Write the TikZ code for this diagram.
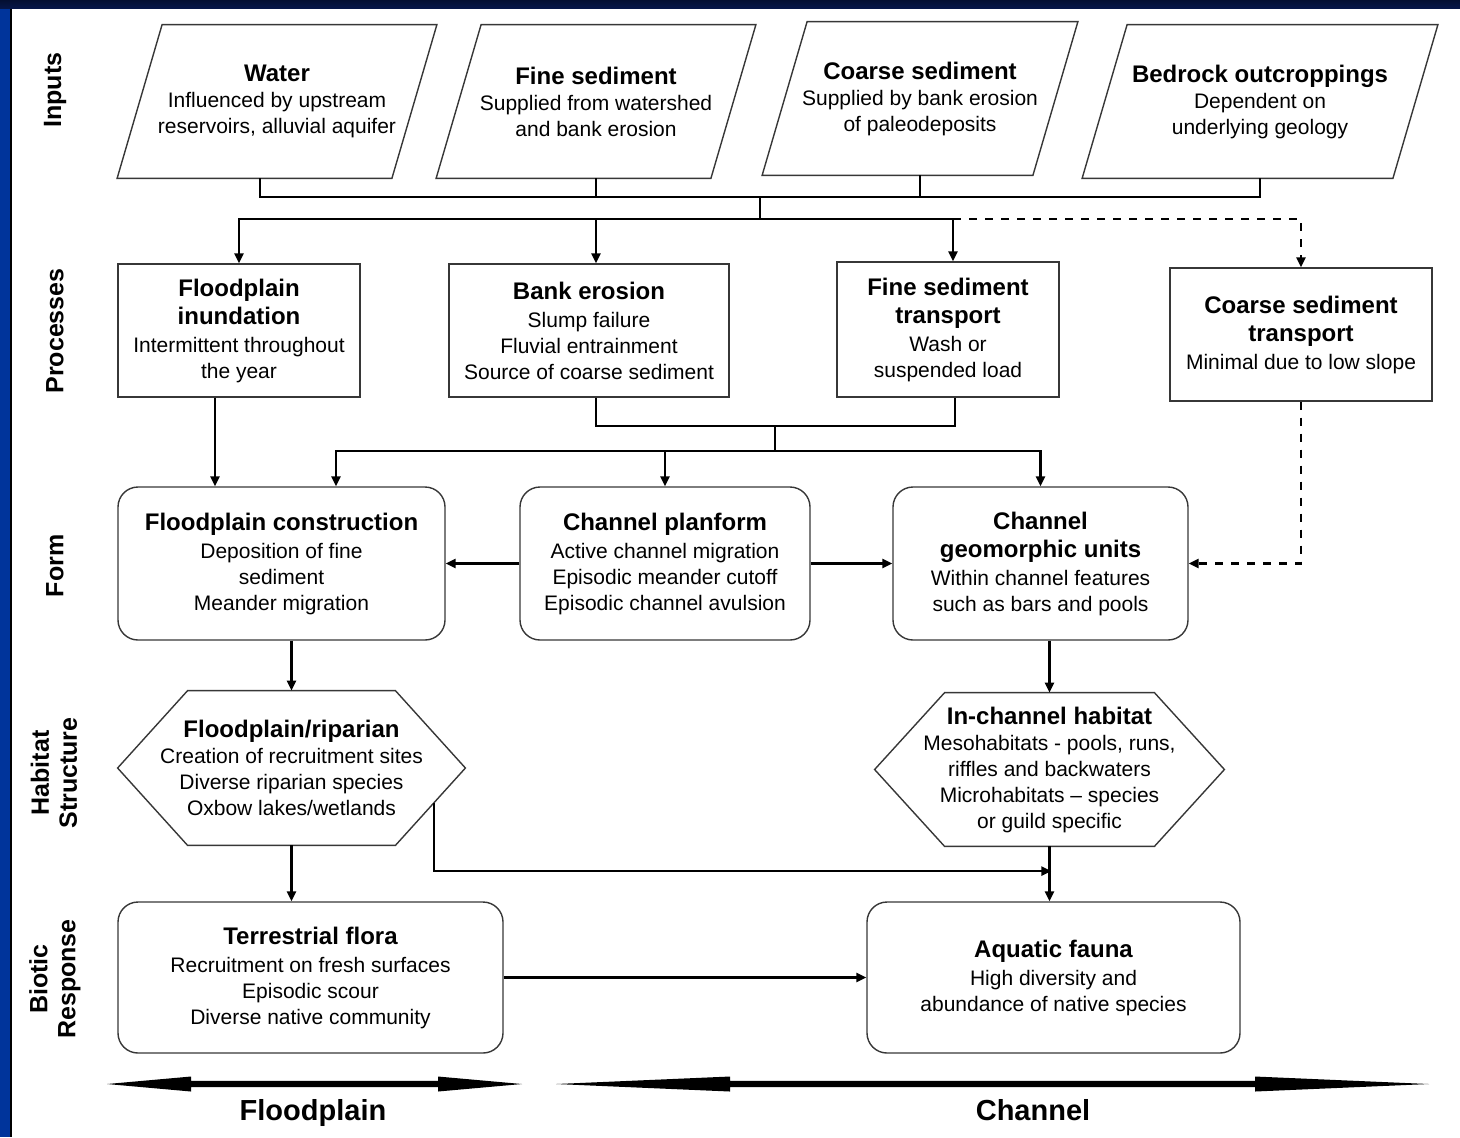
\documentclass[tikz,border=0pt]{standalone}
\usepackage{fontspec}
\setmainfont{Liberation Sans}
\usetikzlibrary{arrows.meta}
\usetikzlibrary{calc}
\usetikzlibrary{positioning}

\definecolor{framenavy}{RGB}{6,22,72}
\definecolor{frameblue}{RGB}{0,52,155}
\definecolor{boxline}{RGB}{55,55,55}

\newcommand{\hd}[1]{{\fontsize{12}{15}\selectfont\bfseries #1}}

\tikzset{
  lane/.style={font=\fontsize{12.5}{14}\selectfont\bfseries, rotate=90, align=center},
  inbox/.style={minimum width=137pt, minimum height=76.5pt, inner sep=0pt, align=center, font=\fontsize{10.5}{13}\selectfont},
  procbox/.style={draw=boxline, line width=0.7pt, minimum height=66.5pt, inner sep=2pt, align=center, font=\fontsize{10.5}{13}\selectfont},
  formbox/.style={procbox, rounded corners=10pt, minimum height=76.5pt},
  hexbox/.style={minimum height=77pt, inner sep=0pt, align=center, font=\fontsize{10.5}{13}\selectfont},
  outline/.style={draw=boxline, line width=0.7pt},
  link/.style={line width=1.2pt},
  arr/.style={link, -{Triangle[length=5pt,width=4.5pt]}},
  dashlink/.style={arr, dash pattern=on 4pt off 4pt},
  footlab/.style={font=\fontsize{14.5}{16}\selectfont\bfseries, anchor=base}
}

\begin{document}
\begin{tikzpicture}[x=0.5pt,y=-0.5pt]
  \useasboundingbox (0,0) rectangle (1460,1137);
  % frame
  \fill[frameblue] (0,0) rectangle (10,1137);
  \fill[black] (10,8) rectangle (12,1137);
  \shade[top color=framenavy!70!black, bottom color=framenavy] (0,0) rectangle (1460,8);

  % row labels
  \node[lane] (lin) at (55,90) {Inputs};
  \node[lane] (lpr) at (55,331) {Processes};
  \node[lane] (lfo) at (55,566) {Form};
  \node[lane] (lha) at (54,773) {Habitat\\Structure};
  \node[lane] (lbi) at (55,979) {Biotic\\Response};

  % inputs
  \node[inbox] (water) at (277,101.5) {\hd{Water}\\Influenced by upstream\\reservoirs, alluvial aquifer};
  \node[inbox] (fsed) at (596,101.5) {\hd{Fine sediment}\\Supplied from watershed\\and bank erosion};
  \node[inbox, minimum width=135pt] (csed) at (920,98.5) {\hd{Coarse sediment}\\Supplied by bank erosion\\of paleodeposits};
  \node[inbox, minimum width=155pt] (bedrock) at (1260,101.5) {\hd{Bedrock outcroppings}\\Dependent on\\underlying geology};
  \foreach \n in {water,fsed,csed,bedrock}
    \draw[outline] ([xshift=11.25pt]\n.north west) -- ([xshift=11.25pt]\n.north east)
      -- ([xshift=-11.25pt]\n.south east) -- ([xshift=-11.25pt]\n.south west) -- cycle;

  % processes
  \node[procbox, minimum width=121pt] (inund) at (239,330.5) {\hd{Floodplain}\\[1pt]\hd{inundation}\\[1pt]Intermittent throughout\\the year};
  \node[procbox, minimum width=140pt] (bank) at (589,330.5) {\hd{Bank erosion}\\[1pt]Slump failure\\Fluvial entrainment\\Source of coarse sediment};
  \node[procbox, minimum width=111pt, minimum height=67.5pt] (ftrans) at (948,329.5) {\hd{Fine sediment}\\[1pt]\hd{transport}\\[1pt]Wash or\\suspended load};
  \node[procbox, minimum width=131pt] (ctrans) at (1301,334.5) {\hd{Coarse sediment}\\[1pt]\hd{transport}\\[1pt]Minimal due to low slope};

  % form
  \node[formbox, minimum width=163.5pt] (fpcon) at (281.5,563.5) {\hd{Floodplain construction}\\[1pt]Deposition of fine\\sediment\\Meander migration};
  \node[formbox, minimum width=145pt] (planform) at (665,563.5) {\hd{Channel planform}\\[1pt]Active channel migration\\Episodic meander cutoff\\Episodic channel avulsion};
  \node[formbox, minimum width=147.5pt] (geounits) at (1040.5,563.5) {\hd{Channel}\\[1pt]\hd{geomorphic units}\\[1pt]Within channel features\\such as bars and pools};

  % habitat structure
  \node[hexbox, minimum width=173.5pt] (riparian) at (291.5,768) {\hd{Floodplain/riparian}\\Creation of recruitment sites\\Diverse riparian species\\Oxbow lakes/wetlands};
  \node[hexbox, minimum width=174.5pt, minimum height=76.5pt] (inchan) at (1049.5,769.5) {\hd{In-channel habitat}\\Mesohabitats - pools, runs,\\riffles and backwaters\\Microhabitats -- species\\or guild specific};
  \foreach \n in {riparian,inchan}
    \draw[outline] ([xshift=35pt]\n.north west) -- ([xshift=-35pt]\n.north east) -- (\n.east)
      -- ([xshift=-35pt]\n.south east) -- ([xshift=35pt]\n.south west) -- (\n.west) -- cycle;
  \coordinate (ripcut) at ($(riparian.east)!0.45!([xshift=-35pt]riparian.south east)$);

  % biotic response
  \node[formbox, minimum width=192.5pt, minimum height=75.5pt] (flora) at (310.5,977.5) {\hd{Terrestrial flora}\\[1pt]Recruitment on fresh surfaces\\Episodic scour\\Diverse native community};
  \node[formbox, minimum width=186.5pt, minimum height=75.5pt] (fauna) at (1053.5,977.5) {\hd{Aquatic fauna}\\[1pt]High diversity and\\abundance of native species};

  % inputs to processes
  \coordinate (inbus) at (760,197);
  \coordinate (prbus) at (760,219);
  \draw[link] ([xshift=-8.5pt]water.south) |- (inbus) -| (bedrock.south);
  \draw[link] (fsed.south) -- (fsed.south |- inbus);
  \draw[link] (csed.south) -- (csed.south |- inbus);
  \draw[link] (inbus) -- (prbus);
  \draw[arr] (prbus) -| (inund.north);
  \draw[arr] (prbus) -| ([xshift=2.5pt]ftrans.north);
  \draw[arr] (prbus -| fsed.south) -- (fsed.south |- bank.north);
  \draw[dashlink] ([xshift=2.5pt]prbus -| ftrans.north) -| (ctrans.north);

  % processes to form
  \coordinate (pjoin) at (775,426);
  \coordinate (fobus) at (775,451);
  \draw[link] ([xshift=3.5pt]bank.south) |- (pjoin) -| ([xshift=3.5pt]ftrans.south);
  \draw[link] (pjoin) -- (fobus);
  \draw[arr] (fobus) -| ([xshift=27.25pt]fpcon.north);
  \draw[arr] (fobus) -| (geounits.north);
  \draw[arr] (fobus -| planform.north) -- (planform.north);
  \draw[arr] ([xshift=-12pt]inund.south) -- ([xshift=-12pt]inund.south |- fpcon.north);
  \draw[dashlink] (ctrans.south) |- (geounits.east);
  \draw[arr] (planform.west) -- (fpcon.east);
  \draw[arr] (planform.east) -- (geounits.west);

  % form to habitat
  \draw[arr] (fpcon.south -| riparian.north) -- (riparian.north);
  \draw[arr] (geounits.south -| inchan.north) -- (inchan.north);

  % habitat to biotic response
  \coordinate (hjoin) at ($(inchan.south)!0.45!(fauna.north)$);
  \draw[arr] (riparian.south) -- (riparian.south |- flora.north);
  \draw[arr] (inchan.south) -- (inchan.south |- fauna.north);
  \draw[arr] (ripcut) |- (hjoin);
  \draw[arr] (flora.east) -- (fauna.west);

  % extent arrows
  \coordinate (fpl) at (107,1084);
  \coordinate (fpr) at (522,1084);
  \coordinate (chl) at (556,1084);
  \coordinate (chr) at (1429,1084);
  \foreach \a/\b/\L in {fpl/fpr/42pt, chl/chr/87pt}
    \fill (\a) -- ([shift={(\L,3.75pt)}]\a) -- ([shift={(\L,1.6pt)}]\a)
      -- ([shift={(-\L,1.6pt)}]\b) -- ([shift={(-\L,3.75pt)}]\b) -- (\b)
      -- ([shift={(-\L,-3.75pt)}]\b) -- ([shift={(-\L,-1.6pt)}]\b)
      -- ([shift={(\L,-1.6pt)}]\a) -- ([shift={(\L,-3.75pt)}]\a) -- cycle;
  \node[footlab] (fplab) at (313,1120) {Floodplain};
  \node[footlab] (chlab) at (1033,1120) {Channel};
\end{tikzpicture}
\end{document}
